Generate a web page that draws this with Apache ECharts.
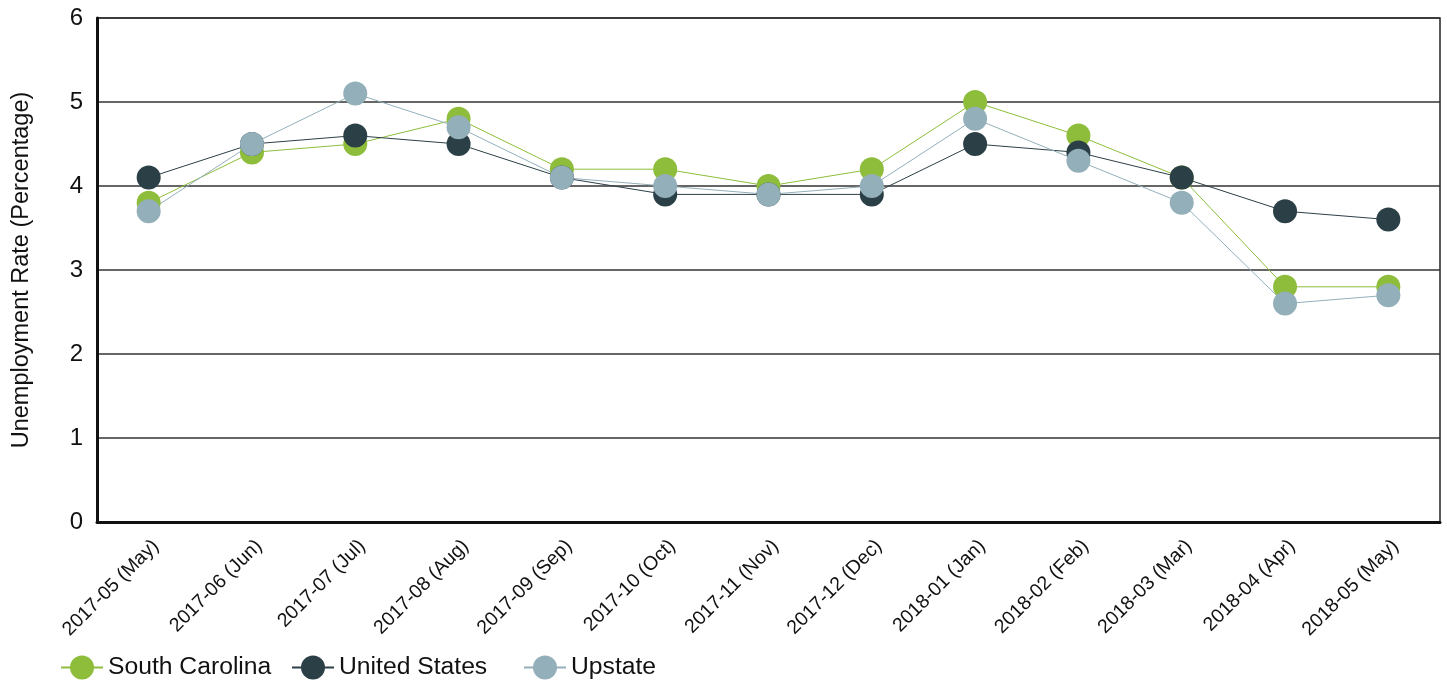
<!DOCTYPE html>
<html>
<head>
<meta charset="utf-8">
<script src="https://cdn.jsdelivr.net/npm/echarts@6/dist/echarts.min.js"></script>
<style>
html,body{margin:0;padding:0;background:#fff;}
#chart{width:1447px;height:686px;}
</style>
</head>
<body>
<div id="chart"></div>
<script>
const categories = ["2017-05 (May)","2017-06 (Jun)","2017-07 (Jul)","2017-08 (Aug)","2017-09 (Sep)","2017-10 (Oct)","2017-11 (Nov)","2017-12 (Dec)","2018-01 (Jan)","2018-02 (Feb)","2018-03 (Mar)","2018-04 (Apr)","2018-05 (May)"];
const southCarolina = [3.8, 4.4, 4.5, 4.8, 4.2, 4.2, 4.0, 4.2, 5.0, 4.6, 4.1, 2.8, 2.8];
const unitedStates = [4.1, 4.5, 4.6, 4.5, 4.1, 3.9, 3.9, 3.9, 4.5, 4.4, 4.1, 3.7, 3.6];
const upstate = [3.7, 4.5, 5.1, 4.7, 4.1, 4.0, 3.9, 4.0, 4.8, 4.3, 3.8, 2.6, 2.7];
const seriesNames = ['South Carolina', 'United States', 'Upstate'];
const yTicks = [0, 1, 2, 3, 4, 5, 6];

const font = 'Liberation Sans, Arial, sans-serif';
const chart = echarts.init(document.getElementById('chart'));
function mk(name, data, color) {
  return {
    name: name, type: 'line', data: data,
    symbol: 'circle', symbolSize: 24,
    itemStyle: { color: color },
    lineStyle: { color: color, width: 1 },
    emphasis: { disabled: true },
    animation: false
  };
}
const legendLefts = [55, 286, 518];
const legends = seriesNames.map((n, i) => ({
  left: legendLefts[i], top: 650, itemWidth: 42, itemHeight: 30,
  textStyle: { fontFamily: font, fontSize: 24.7, color: '#111' },
  data: [n]
}));
chart.setOption({
  animation: false,
  grid: { left: 97, right: 7, top: 18, bottom: 164, show: true, borderColor: '#222', borderWidth: 1.5 },
  legend: legends,
  xAxis: {
    type: 'category', data: categories, boundaryGap: true,
    axisLine: { lineStyle: { color: '#111', width: 3 } },
    axisTick: { show: false },
    axisLabel: { rotate: 45, fontFamily: font, fontSize: 19.5, color: '#111', margin: 14, interval: 0, verticalAlign: 'top' },
    splitLine: { show: false }
  },
  yAxis: {
    type: 'value', min: yTicks[0], max: yTicks[yTicks.length - 1], interval: 1,
    name: 'Unemployment Rate (Percentage)', nameLocation: 'middle', nameGap: 63,
    nameTextStyle: { fontFamily: font, fontSize: 23.5, color: '#111' },
    axisLine: { show: true, lineStyle: { color: '#111', width: 3 } },
    axisTick: { show: false },
    axisLabel: { fontFamily: font, fontSize: 24, color: '#111', margin: 14 },
    splitLine: { lineStyle: { color: '#333', width: 1.5 } }
  },
  series: [
    mk(seriesNames[0], southCarolina, '#8dbd3a'),
    mk(seriesNames[1], unitedStates, '#2b3f46'),
    mk(seriesNames[2], upstate, '#93afba')
  ]
});
</script>
</body>
</html>
